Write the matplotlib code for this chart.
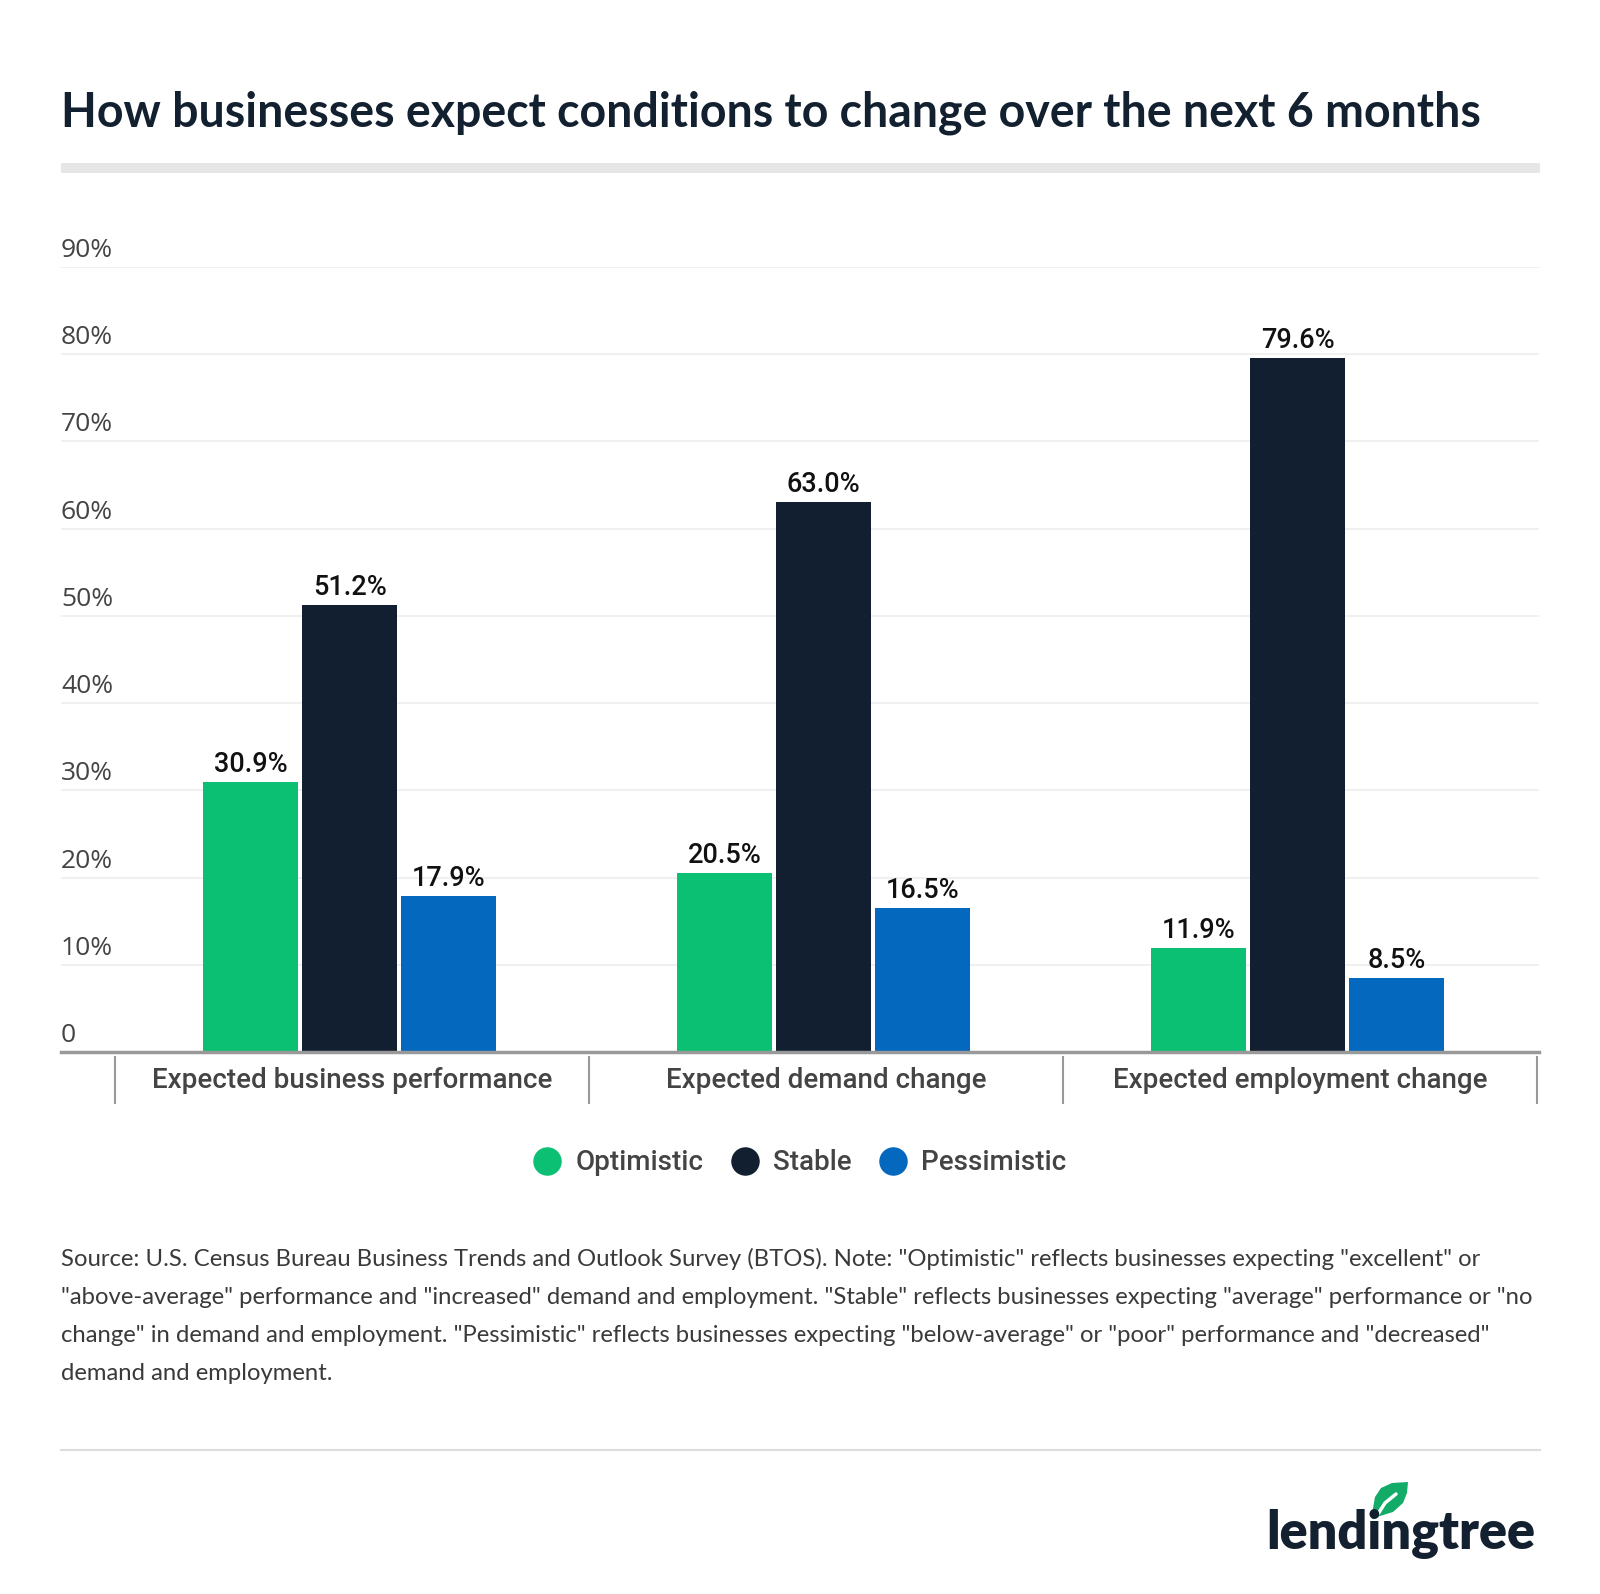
import numpy as np
import matplotlib
matplotlib.use("Agg")
import matplotlib.pyplot as plt
from matplotlib.lines import Line2D
from matplotlib.patches import Polygon
import matplotlib.transforms as mtransforms

# Data
categories = ["Expected business performance", "Expected demand change", "Expected employment change"]
series_names = ["Optimistic", "Stable", "Pessimistic"]
optimistic = [30.9, 20.5, 11.9]
stable = [51.2, 63.0, 79.6]
pessimistic = [17.9, 16.5, 8.5]
yticks = [0, 10, 20, 30, 40, 50, 60, 70, 80, 90]
ytick_labels = ["0", "10%", "20%", "30%", "40%", "50%", "60%", "70%", "80%", "90%"]

colors = ["#0bc073", "#121f30", "#0468be"]
navy = "#12202f"
gray_txt = "#444444"

W, H = 1600, 1594
fig = plt.figure(figsize=(W / 100, H / 100), dpi=100)
fig.patch.set_facecolor("white")

# title + header bar
fig.text(61 / W, 1 - 113 / H, "How businesses expect conditions to change over the next 6 months",
         fontfamily="Lato", fontweight="bold", fontsize=33.5, color=navy, va="center", ha="left")
fig.add_artist(plt.Rectangle((61 / W, 1 - 173 / H), (1540 - 61) / W, 10 / H,
                             transform=fig.transFigure, color="#e6e6e6", lw=0))

# axes
ax = fig.add_axes([61 / W, 1 - 1052 / H, (1539 - 61) / W, (1052 - 267) / H])
x = np.arange(len(categories))
step = 0.209
width = 0.2
all_series = [optimistic, stable, pessimistic]
for k, vals in enumerate(all_series):
    xs = x + (k - 1) * step - 0.005
    ax.bar(xs, vals, width=width, color=colors[k], zorder=3)
    for xi, v in zip(xs, vals):
        ax.annotate(f"{v:.1f}%", (xi, v), xytext=(0, 10), textcoords="offset pixels",
                    ha="center", va="baseline", fontfamily="Roboto", fontweight="medium",
                    fontsize=19.5, color="#111111")

ax.set_xlim(-0.614, 2.504)
ax.set_ylim(0, 90)
for s in ["top", "right", "left"]:
    ax.spines[s].set_visible(False)
ax.spines["bottom"].set_color("#999999")
ax.spines["bottom"].set_linewidth(2.5)
ax.spines["bottom"].set_zorder(4)
ax.set_yticks(yticks)
ax.set_yticklabels([])
ax.tick_params(axis="y", length=0)
ax.set_xticks([])
ax.grid(axis="y", color="#eeeeee", linewidth=1.2, zorder=0)

for t, lab in zip(yticks, ytick_labels):
    ax.annotate(lab, (0, t), xycoords=("axes fraction", "data"), xytext=(0, 10),
                textcoords="offset pixels", ha="left", va="baseline",
                fontfamily="Open Sans", fontweight="medium", fontsize=19, color=gray_txt)

trans = mtransforms.blended_transform_factory(ax.transData, ax.transAxes)
span = 1052 - 267
for b in np.arange(len(categories) + 1) - 0.5:
    ax.plot([b, b], [-5 / span, -51 / span], transform=trans, color="#999999",
            lw=1.5, clip_on=False)
for xi, c in zip(x, categories):
    ax.text(xi, -29 / span, c, transform=trans, ha="center", va="center",
            fontfamily="Roboto", fontweight="medium", fontsize=20, color=gray_txt)

# legend
handles = [Line2D([], [], marker="o", linestyle="none", markersize=19.5,
                  markerfacecolor=c, markeredgecolor=c) for c in colors]
leg = fig.legend(handles, series_names, loc="center", bbox_to_anchor=(797 / W, 1 - 1163 / H),
                 ncol=3, frameon=False, handletextpad=0.3, columnspacing=0.8,
                 handlelength=1.4, prop={"family": "Roboto", "weight": "medium", "size": 20})
for t in leg.get_texts():
    t.set_color(gray_txt)

# footnote
note_lines = [
    'Source: U.S. Census Bureau Business Trends and Outlook Survey (BTOS). Note: "Optimistic" reflects businesses expecting "excellent" or',
    '"above-average" performance and "increased" demand and employment. "Stable" reflects businesses expecting "average" performance or "no',
    'change" in demand and employment. "Pessimistic" reflects businesses expecting "below-average" or "poor" performance and "decreased"',
    'demand and employment.',
]
for i, line in enumerate(note_lines):
    fig.text(61 / W, 1 - (1259 + 38.2 * i) / H, line, fontfamily="Lato", fontsize=17.2,
             color="#3a3a3a", va="center", ha="left")

fig.add_artist(Line2D([61 / W, 1540 / W], [1 - 1450 / H, 1 - 1450 / H],
                      transform=fig.transFigure, color="#dddddd", lw=1.5))

# logo
fig.text(1535 / W, 1 - 1549 / H, "lendingtree", fontfamily="Lato", fontweight="heavy",
         fontsize=37.5, color=navy, ha="right", va="baseline")
leaf = [(1408, 1482), (1392, 1483), (1381, 1488), (1375, 1497), (1373, 1508), (1372, 1519),
        (1380, 1516), (1393, 1512), (1403, 1503), (1407, 1493)]
fig.add_artist(Polygon([(px / W, 1 - py / H) for px, py in leaf], closed=True,
                       transform=fig.transFigure, facecolor="#13ab68", edgecolor="none"))
vein = [(1378, 1514), (1385, 1503), (1396, 1494)]
fig.add_artist(Line2D([p[0] / W for p in vein], [1 - p[1] / H for p in vein],
                      transform=fig.transFigure, color="white", lw=2.5, solid_capstyle="round"))

fig.savefig("out.png", dpi=100, facecolor="white")
